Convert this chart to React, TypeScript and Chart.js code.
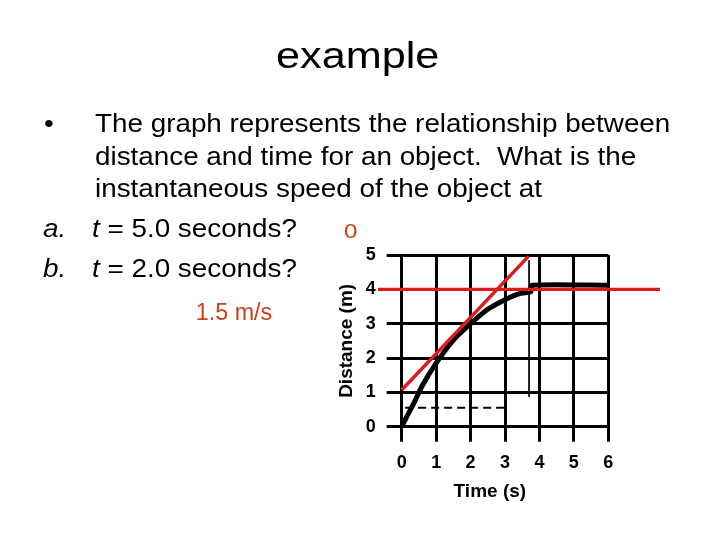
import React, { useEffect, useRef } from "react";
import { Chart, registerables } from "chart.js";

Chart.register(...registerables);

// ---- data ----
const xTickValues = [0, 1, 2, 3, 4, 5, 6];
const yTickValues = [0, 1, 2, 3, 4, 5];
const xTitle = "Time (s)";
const yTitle = "Distance (m)";

// distance-time curve (black)
const curveTime = [0, 0.15, 0.35, 0.6, 1.0, 1.5, 2.0, 2.5, 3.0, 3.4, 3.75, 3.78, 6];
const curveDist = [0, 0.3, 0.68, 1.2, 1.85, 2.52, 3.0, 3.42, 3.7, 3.87, 3.93, 4.12, 4.12];
// tangent at t = 2 (red)
const tangentTime = [0, 3.68];
const tangentDist = [1.07, 4.96];
// horizontal tangent (red)
const flatTime = [-0.69, 7.5];
const flatDist = [4.0, 4.0];
// thin vertical guide
const guideTime = [3.7, 3.7];
const guideDist = [4.85, 0.87];
// dashed guide
const dashTime = [0.1, 3.0];
const dashDist = [0.55, 0.55];

const pts = (xs: number[], ys: number[]) => xs.map((x, i) => ({ x, y: ys[i] }));

const FONT = "'Liberation Sans', Arial, Helvetica, sans-serif";
const RED = "#dc1c1c";
const TEXT_RED = "#c8421c";

const xTitlePlugin = {
  id: "xTitlePlugin",
  afterDraw(chart: any) {
    const ctx = chart.ctx;
    const xs = chart.scales.x;
    const ys = chart.scales.y;
    ctx.save();
    ctx.font = `bold 19px ${FONT}`;
    ctx.fillStyle = "#000";
    ctx.textAlign = "center";
    ctx.textBaseline = "alphabetic";
    ctx.fillText(xTitle, xs.getPixelForValue(2.56), ys.getPixelForValue(0) + 70);
    ctx.restore();
  },
};

function ChartCanvas() {
  const ref = useRef<HTMLCanvasElement | null>(null);
  useEffect(() => {
    if (!ref.current) return;
    const tickFont = { family: FONT, size: 18, weight: "bold" as const };
    const grid = {
      color: "#000",
      lineWidth: 3,
      drawTicks: true,
      tickLength: 15,
      tickWidth: 3,
      tickColor: "#000",
    };
    const chart = new Chart(ref.current, {
      type: "line",
      data: {
        datasets: [
          {
            data: pts(tangentTime, tangentDist),
            borderColor: RED,
            borderWidth: 3.5,
            pointRadius: 0,
            clip: false as any,
          },
          {
            data: pts(flatTime, flatDist),
            borderColor: RED,
            borderWidth: 3.2,
            pointRadius: 0,
            clip: false as any,
          },
          {
            data: pts(curveTime, curveDist),
            borderColor: "#000",
            borderWidth: 5,
            pointRadius: 0,
            tension: 0.2,
            borderJoinStyle: "round",
            clip: false as any,
          },
          {
            data: pts(guideTime, guideDist),
            borderColor: "#000",
            borderWidth: 1,
            pointRadius: 0,
            clip: false as any,
          },
          {
            data: pts(dashTime, dashDist),
            borderColor: "#000",
            borderWidth: 2,
            borderDash: [8, 5],
            pointRadius: 0,
            clip: false as any,
          },
        ],
      },
      options: {
        responsive: false,
        devicePixelRatio: 1,
        animation: false,
        events: [],
        layout: { padding: { left: 331.7, right: 111.7, top: 255, bottom: 33.3 } },
        plugins: { legend: { display: false }, tooltip: { enabled: false } },
        scales: {
          x: {
            type: "linear",
            min: xTickValues[0],
            max: xTickValues[xTickValues.length - 1],
            afterFit: (s: any) => {
              s.height = 80;
            },
            afterBuildTicks: (s: any) => {
              s.ticks = xTickValues.map((v) => ({ value: v }));
            },
            ticks: { color: "#000", font: tickFont, padding: 11, maxRotation: 0 },
            grid,
            border: { display: true, color: "#000", width: 3 },
          },
          y: {
            type: "linear",
            min: yTickValues[0],
            max: yTickValues[yTickValues.length - 1],
            afterFit: (s: any) => {
              s.width = 70;
            },
            afterBuildTicks: (s: any) => {
              s.ticks = yTickValues.map((v) => ({ value: v }));
            },
            ticks: { color: "#000", font: tickFont, padding: 11 },
            grid,
            border: { display: true, color: "#000", width: 3 },
            title: {
              display: true,
              text: yTitle,
              color: "#000",
              font: { family: FONT, size: 19, weight: "bold" },
              padding: 4,
            },
          },
        },
      },
      plugins: [xTitlePlugin],
    } as any);
    return () => chart.destroy();
  }, []);
  return (
    <canvas
      ref={ref}
      width={720}
      height={540}
      style={{ position: "absolute", left: 0, top: 0, width: 720, height: 540 }}
    />
  );
}

type TProps = {
  x: number;
  baseline: number;
  size: number;
  scale?: number;
  color?: string;
  italic?: boolean;
  children: React.ReactNode;
};

function T({ x, baseline, size, scale = 1, color = "#000", italic, children }: TProps) {
  return (
    <div
      style={{
        position: "absolute",
        left: x,
        top: baseline - 0.8465 * size,
        fontFamily: FONT,
        fontSize: size,
        lineHeight: `${size}px`,
        color,
        fontStyle: italic ? "italic" : "normal",
        whiteSpace: "pre",
        transform: `scaleX(${scale})`,
        transformOrigin: "left top",
        zIndex: 2,
      }}
    >
      {children}
    </div>
  );
}

export default function App() {
  const B = 26;
  const S = 1.07;
  return (
    <div
      style={{
        position: "fixed",
        left: 0,
        top: 0,
        width: 720,
        height: 540,
        background: "#fff",
        overflow: "hidden",
      }}
    >
      <ChartCanvas />
      <T x={276} baseline={68.3} size={36} scale={1.2}>example</T>
      <T x={44.4} baseline={132} size={B} scale={S}>•</T>
      <T x={95.3} baseline={132} size={B} scale={S}>The graph represents the relationship between</T>
      <T x={95.3} baseline={164.7} size={B} scale={S}>distance and time for an object.  What is the</T>
      <T x={95.3} baseline={197} size={B} scale={S}>instantaneous speed of the object at</T>
      <T x={42.5} baseline={236.7} size={B} scale={S} italic>a.</T>
      <T x={92} baseline={236.7} size={B} scale={S}>
        <i>t</i> = 5.0 seconds?
      </T>
      <T x={42.5} baseline={276.7} size={B} scale={S} italic>b.</T>
      <T x={92} baseline={276.7} size={B} scale={S}>
        <i>t</i> = 2.0 seconds?
      </T>
      <T x={344} baseline={237.3} size={21} scale={1.15} color={TEXT_RED}>0</T>
      <T x={195.8} baseline={320.7} size={23.3} color={TEXT_RED}>1.5 m/s</T>
    </div>
  );
}
